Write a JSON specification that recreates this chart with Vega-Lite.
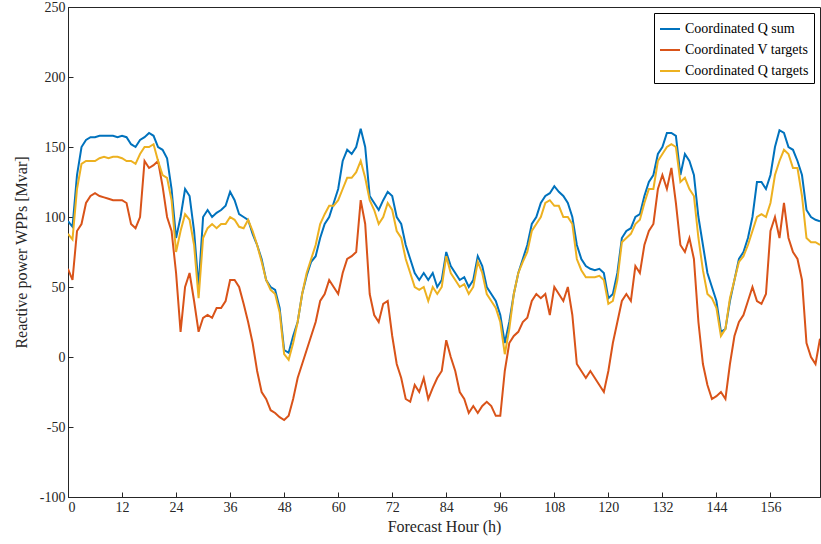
{
  "$schema": "https://vega.github.io/schema/vega-lite/v6.json",
  "width": 752,
  "height": 490,
  "autosize": {"type": "none"},
  "padding": {"left": 68, "top": 7, "right": 1, "bottom": 47},
  "data": {"values": [
{"h":0,"Coordinated Q sum":97,"Coordinated V targets":63,"Coordinated Q targets":88},
{"h":1,"Coordinated Q sum":93,"Coordinated V targets":55,"Coordinated Q targets":84},
{"h":2,"Coordinated Q sum":130,"Coordinated V targets":90,"Coordinated Q targets":120},
{"h":3,"Coordinated Q sum":150,"Coordinated V targets":95,"Coordinated Q targets":138},
{"h":4,"Coordinated Q sum":155,"Coordinated V targets":110,"Coordinated Q targets":140},
{"h":5,"Coordinated Q sum":157,"Coordinated V targets":115,"Coordinated Q targets":140},
{"h":6,"Coordinated Q sum":157,"Coordinated V targets":117,"Coordinated Q targets":140},
{"h":7,"Coordinated Q sum":158,"Coordinated V targets":115,"Coordinated Q targets":142},
{"h":8,"Coordinated Q sum":158,"Coordinated V targets":114,"Coordinated Q targets":143},
{"h":9,"Coordinated Q sum":158,"Coordinated V targets":113,"Coordinated Q targets":142},
{"h":10,"Coordinated Q sum":158,"Coordinated V targets":112,"Coordinated Q targets":143},
{"h":11,"Coordinated Q sum":157,"Coordinated V targets":112,"Coordinated Q targets":143},
{"h":12,"Coordinated Q sum":158,"Coordinated V targets":112,"Coordinated Q targets":142},
{"h":13,"Coordinated Q sum":157,"Coordinated V targets":110,"Coordinated Q targets":140},
{"h":14,"Coordinated Q sum":152,"Coordinated V targets":95,"Coordinated Q targets":140},
{"h":15,"Coordinated Q sum":150,"Coordinated V targets":92,"Coordinated Q targets":138},
{"h":16,"Coordinated Q sum":155,"Coordinated V targets":100,"Coordinated Q targets":145},
{"h":17,"Coordinated Q sum":157,"Coordinated V targets":140,"Coordinated Q targets":150},
{"h":18,"Coordinated Q sum":160,"Coordinated V targets":135,"Coordinated Q targets":150},
{"h":19,"Coordinated Q sum":158,"Coordinated V targets":137,"Coordinated Q targets":152},
{"h":20,"Coordinated Q sum":150,"Coordinated V targets":140,"Coordinated Q targets":140},
{"h":21,"Coordinated Q sum":148,"Coordinated V targets":122,"Coordinated Q targets":130},
{"h":22,"Coordinated Q sum":142,"Coordinated V targets":100,"Coordinated Q targets":128},
{"h":23,"Coordinated Q sum":120,"Coordinated V targets":90,"Coordinated Q targets":112},
{"h":24,"Coordinated Q sum":85,"Coordinated V targets":60,"Coordinated Q targets":75},
{"h":25,"Coordinated Q sum":100,"Coordinated V targets":18,"Coordinated Q targets":90},
{"h":26,"Coordinated Q sum":120,"Coordinated V targets":50,"Coordinated Q targets":102},
{"h":27,"Coordinated Q sum":115,"Coordinated V targets":60,"Coordinated Q targets":98},
{"h":28,"Coordinated Q sum":90,"Coordinated V targets":40,"Coordinated Q targets":80},
{"h":29,"Coordinated Q sum":50,"Coordinated V targets":18,"Coordinated Q targets":42},
{"h":30,"Coordinated Q sum":100,"Coordinated V targets":28,"Coordinated Q targets":85},
{"h":31,"Coordinated Q sum":105,"Coordinated V targets":30,"Coordinated Q targets":92},
{"h":32,"Coordinated Q sum":100,"Coordinated V targets":28,"Coordinated Q targets":95},
{"h":33,"Coordinated Q sum":103,"Coordinated V targets":35,"Coordinated Q targets":92},
{"h":34,"Coordinated Q sum":105,"Coordinated V targets":35,"Coordinated Q targets":95},
{"h":35,"Coordinated Q sum":108,"Coordinated V targets":40,"Coordinated Q targets":95},
{"h":36,"Coordinated Q sum":118,"Coordinated V targets":55,"Coordinated Q targets":100},
{"h":37,"Coordinated Q sum":112,"Coordinated V targets":55,"Coordinated Q targets":98},
{"h":38,"Coordinated Q sum":102,"Coordinated V targets":50,"Coordinated Q targets":93},
{"h":39,"Coordinated Q sum":100,"Coordinated V targets":38,"Coordinated Q targets":92},
{"h":40,"Coordinated Q sum":98,"Coordinated V targets":25,"Coordinated Q targets":98},
{"h":41,"Coordinated Q sum":88,"Coordinated V targets":10,"Coordinated Q targets":90},
{"h":42,"Coordinated Q sum":80,"Coordinated V targets":-10,"Coordinated Q targets":80},
{"h":43,"Coordinated Q sum":70,"Coordinated V targets":-25,"Coordinated Q targets":68},
{"h":44,"Coordinated Q sum":55,"Coordinated V targets":-30,"Coordinated Q targets":55},
{"h":45,"Coordinated Q sum":50,"Coordinated V targets":-38,"Coordinated Q targets":48},
{"h":46,"Coordinated Q sum":48,"Coordinated V targets":-40,"Coordinated Q targets":45},
{"h":47,"Coordinated Q sum":35,"Coordinated V targets":-43,"Coordinated Q targets":32},
{"h":48,"Coordinated Q sum":5,"Coordinated V targets":-45,"Coordinated Q targets":2},
{"h":49,"Coordinated Q sum":3,"Coordinated V targets":-42,"Coordinated Q targets":-2},
{"h":50,"Coordinated Q sum":15,"Coordinated V targets":-30,"Coordinated Q targets":10},
{"h":51,"Coordinated Q sum":25,"Coordinated V targets":-15,"Coordinated Q targets":25},
{"h":52,"Coordinated Q sum":45,"Coordinated V targets":-5,"Coordinated Q targets":45},
{"h":53,"Coordinated Q sum":58,"Coordinated V targets":5,"Coordinated Q targets":60},
{"h":54,"Coordinated Q sum":68,"Coordinated V targets":15,"Coordinated Q targets":70},
{"h":55,"Coordinated Q sum":72,"Coordinated V targets":25,"Coordinated Q targets":80},
{"h":56,"Coordinated Q sum":85,"Coordinated V targets":40,"Coordinated Q targets":95},
{"h":57,"Coordinated Q sum":95,"Coordinated V targets":45,"Coordinated Q targets":102},
{"h":58,"Coordinated Q sum":100,"Coordinated V targets":55,"Coordinated Q targets":108},
{"h":59,"Coordinated Q sum":110,"Coordinated V targets":50,"Coordinated Q targets":108},
{"h":60,"Coordinated Q sum":120,"Coordinated V targets":45,"Coordinated Q targets":112},
{"h":61,"Coordinated Q sum":140,"Coordinated V targets":60,"Coordinated Q targets":120},
{"h":62,"Coordinated Q sum":148,"Coordinated V targets":70,"Coordinated Q targets":128},
{"h":63,"Coordinated Q sum":145,"Coordinated V targets":72,"Coordinated Q targets":128},
{"h":64,"Coordinated Q sum":150,"Coordinated V targets":75,"Coordinated Q targets":132},
{"h":65,"Coordinated Q sum":163,"Coordinated V targets":112,"Coordinated Q targets":140},
{"h":66,"Coordinated Q sum":150,"Coordinated V targets":95,"Coordinated Q targets":128},
{"h":67,"Coordinated Q sum":115,"Coordinated V targets":45,"Coordinated Q targets":112},
{"h":68,"Coordinated Q sum":110,"Coordinated V targets":30,"Coordinated Q targets":105},
{"h":69,"Coordinated Q sum":105,"Coordinated V targets":25,"Coordinated Q targets":95},
{"h":70,"Coordinated Q sum":112,"Coordinated V targets":38,"Coordinated Q targets":100},
{"h":71,"Coordinated Q sum":118,"Coordinated V targets":40,"Coordinated Q targets":110},
{"h":72,"Coordinated Q sum":115,"Coordinated V targets":15,"Coordinated Q targets":105},
{"h":73,"Coordinated Q sum":100,"Coordinated V targets":-5,"Coordinated Q targets":90},
{"h":74,"Coordinated Q sum":95,"Coordinated V targets":-15,"Coordinated Q targets":85},
{"h":75,"Coordinated Q sum":80,"Coordinated V targets":-30,"Coordinated Q targets":70},
{"h":76,"Coordinated Q sum":70,"Coordinated V targets":-32,"Coordinated Q targets":60},
{"h":77,"Coordinated Q sum":60,"Coordinated V targets":-20,"Coordinated Q targets":50},
{"h":78,"Coordinated Q sum":55,"Coordinated V targets":-25,"Coordinated Q targets":48},
{"h":79,"Coordinated Q sum":60,"Coordinated V targets":-15,"Coordinated Q targets":50},
{"h":80,"Coordinated Q sum":55,"Coordinated V targets":-30,"Coordinated Q targets":40},
{"h":81,"Coordinated Q sum":60,"Coordinated V targets":-22,"Coordinated Q targets":50},
{"h":82,"Coordinated Q sum":50,"Coordinated V targets":-15,"Coordinated Q targets":45},
{"h":83,"Coordinated Q sum":55,"Coordinated V targets":-10,"Coordinated Q targets":50},
{"h":84,"Coordinated Q sum":75,"Coordinated V targets":12,"Coordinated Q targets":72},
{"h":85,"Coordinated Q sum":65,"Coordinated V targets":0,"Coordinated Q targets":60},
{"h":86,"Coordinated Q sum":60,"Coordinated V targets":-10,"Coordinated Q targets":55},
{"h":87,"Coordinated Q sum":55,"Coordinated V targets":-25,"Coordinated Q targets":50},
{"h":88,"Coordinated Q sum":57,"Coordinated V targets":-30,"Coordinated Q targets":52},
{"h":89,"Coordinated Q sum":50,"Coordinated V targets":-40,"Coordinated Q targets":45},
{"h":90,"Coordinated Q sum":55,"Coordinated V targets":-35,"Coordinated Q targets":50},
{"h":91,"Coordinated Q sum":72,"Coordinated V targets":-40,"Coordinated Q targets":68},
{"h":92,"Coordinated Q sum":65,"Coordinated V targets":-35,"Coordinated Q targets":60},
{"h":93,"Coordinated Q sum":50,"Coordinated V targets":-32,"Coordinated Q targets":45},
{"h":94,"Coordinated Q sum":45,"Coordinated V targets":-35,"Coordinated Q targets":40},
{"h":95,"Coordinated Q sum":40,"Coordinated V targets":-42,"Coordinated Q targets":35},
{"h":96,"Coordinated Q sum":30,"Coordinated V targets":-42,"Coordinated Q targets":25},
{"h":97,"Coordinated Q sum":10,"Coordinated V targets":-10,"Coordinated Q targets":2},
{"h":98,"Coordinated Q sum":25,"Coordinated V targets":10,"Coordinated Q targets":20},
{"h":99,"Coordinated Q sum":45,"Coordinated V targets":15,"Coordinated Q targets":45},
{"h":100,"Coordinated Q sum":60,"Coordinated V targets":18,"Coordinated Q targets":60},
{"h":101,"Coordinated Q sum":70,"Coordinated V targets":25,"Coordinated Q targets":68},
{"h":102,"Coordinated Q sum":80,"Coordinated V targets":28,"Coordinated Q targets":75},
{"h":103,"Coordinated Q sum":95,"Coordinated V targets":40,"Coordinated Q targets":90},
{"h":104,"Coordinated Q sum":100,"Coordinated V targets":45,"Coordinated Q targets":95},
{"h":105,"Coordinated Q sum":110,"Coordinated V targets":42,"Coordinated Q targets":100},
{"h":106,"Coordinated Q sum":115,"Coordinated V targets":45,"Coordinated Q targets":110},
{"h":107,"Coordinated Q sum":117,"Coordinated V targets":30,"Coordinated Q targets":112},
{"h":108,"Coordinated Q sum":122,"Coordinated V targets":50,"Coordinated Q targets":108},
{"h":109,"Coordinated Q sum":118,"Coordinated V targets":45,"Coordinated Q targets":108},
{"h":110,"Coordinated Q sum":115,"Coordinated V targets":40,"Coordinated Q targets":100},
{"h":111,"Coordinated Q sum":110,"Coordinated V targets":50,"Coordinated Q targets":100},
{"h":112,"Coordinated Q sum":100,"Coordinated V targets":30,"Coordinated Q targets":95},
{"h":113,"Coordinated Q sum":80,"Coordinated V targets":-5,"Coordinated Q targets":70},
{"h":114,"Coordinated Q sum":70,"Coordinated V targets":-10,"Coordinated Q targets":62},
{"h":115,"Coordinated Q sum":65,"Coordinated V targets":-15,"Coordinated Q targets":57},
{"h":116,"Coordinated Q sum":63,"Coordinated V targets":-10,"Coordinated Q targets":57},
{"h":117,"Coordinated Q sum":62,"Coordinated V targets":-15,"Coordinated Q targets":57},
{"h":118,"Coordinated Q sum":63,"Coordinated V targets":-20,"Coordinated Q targets":58},
{"h":119,"Coordinated Q sum":60,"Coordinated V targets":-25,"Coordinated Q targets":55},
{"h":120,"Coordinated Q sum":42,"Coordinated V targets":-10,"Coordinated Q targets":38},
{"h":121,"Coordinated Q sum":45,"Coordinated V targets":10,"Coordinated Q targets":40},
{"h":122,"Coordinated Q sum":60,"Coordinated V targets":25,"Coordinated Q targets":55},
{"h":123,"Coordinated Q sum":85,"Coordinated V targets":40,"Coordinated Q targets":82},
{"h":124,"Coordinated Q sum":90,"Coordinated V targets":45,"Coordinated Q targets":85},
{"h":125,"Coordinated Q sum":92,"Coordinated V targets":40,"Coordinated Q targets":88},
{"h":126,"Coordinated Q sum":100,"Coordinated V targets":65,"Coordinated Q targets":95},
{"h":127,"Coordinated Q sum":102,"Coordinated V targets":60,"Coordinated Q targets":98},
{"h":128,"Coordinated Q sum":115,"Coordinated V targets":80,"Coordinated Q targets":110},
{"h":129,"Coordinated Q sum":125,"Coordinated V targets":90,"Coordinated Q targets":120},
{"h":130,"Coordinated Q sum":130,"Coordinated V targets":95,"Coordinated Q targets":120},
{"h":131,"Coordinated Q sum":145,"Coordinated V targets":120,"Coordinated Q targets":140},
{"h":132,"Coordinated Q sum":150,"Coordinated V targets":130,"Coordinated Q targets":145},
{"h":133,"Coordinated Q sum":160,"Coordinated V targets":120,"Coordinated Q targets":150},
{"h":134,"Coordinated Q sum":160,"Coordinated V targets":135,"Coordinated Q targets":152},
{"h":135,"Coordinated Q sum":158,"Coordinated V targets":110,"Coordinated Q targets":150},
{"h":136,"Coordinated Q sum":130,"Coordinated V targets":80,"Coordinated Q targets":125},
{"h":137,"Coordinated Q sum":145,"Coordinated V targets":75,"Coordinated Q targets":128},
{"h":138,"Coordinated Q sum":140,"Coordinated V targets":85,"Coordinated Q targets":120},
{"h":139,"Coordinated Q sum":130,"Coordinated V targets":70,"Coordinated Q targets":115},
{"h":140,"Coordinated Q sum":100,"Coordinated V targets":25,"Coordinated Q targets":85},
{"h":141,"Coordinated Q sum":80,"Coordinated V targets":-5,"Coordinated Q targets":62},
{"h":142,"Coordinated Q sum":60,"Coordinated V targets":-20,"Coordinated Q targets":45},
{"h":143,"Coordinated Q sum":50,"Coordinated V targets":-30,"Coordinated Q targets":42},
{"h":144,"Coordinated Q sum":40,"Coordinated V targets":-28,"Coordinated Q targets":35},
{"h":145,"Coordinated Q sum":18,"Coordinated V targets":-25,"Coordinated Q targets":15},
{"h":146,"Coordinated Q sum":20,"Coordinated V targets":-30,"Coordinated Q targets":20},
{"h":147,"Coordinated Q sum":40,"Coordinated V targets":-5,"Coordinated Q targets":42},
{"h":148,"Coordinated Q sum":55,"Coordinated V targets":15,"Coordinated Q targets":55},
{"h":149,"Coordinated Q sum":70,"Coordinated V targets":25,"Coordinated Q targets":68},
{"h":150,"Coordinated Q sum":75,"Coordinated V targets":30,"Coordinated Q targets":72},
{"h":151,"Coordinated Q sum":85,"Coordinated V targets":40,"Coordinated Q targets":80},
{"h":152,"Coordinated Q sum":100,"Coordinated V targets":50,"Coordinated Q targets":90},
{"h":153,"Coordinated Q sum":125,"Coordinated V targets":40,"Coordinated Q targets":100},
{"h":154,"Coordinated Q sum":125,"Coordinated V targets":38,"Coordinated Q targets":102},
{"h":155,"Coordinated Q sum":120,"Coordinated V targets":45,"Coordinated Q targets":100},
{"h":156,"Coordinated Q sum":130,"Coordinated V targets":90,"Coordinated Q targets":110},
{"h":157,"Coordinated Q sum":150,"Coordinated V targets":100,"Coordinated Q targets":130},
{"h":158,"Coordinated Q sum":162,"Coordinated V targets":85,"Coordinated Q targets":140},
{"h":159,"Coordinated Q sum":160,"Coordinated V targets":110,"Coordinated Q targets":148},
{"h":160,"Coordinated Q sum":150,"Coordinated V targets":85,"Coordinated Q targets":145},
{"h":161,"Coordinated Q sum":148,"Coordinated V targets":75,"Coordinated Q targets":135},
{"h":162,"Coordinated Q sum":140,"Coordinated V targets":70,"Coordinated Q targets":135},
{"h":163,"Coordinated Q sum":130,"Coordinated V targets":55,"Coordinated Q targets":115},
{"h":164,"Coordinated Q sum":105,"Coordinated V targets":10,"Coordinated Q targets":85},
{"h":165,"Coordinated Q sum":100,"Coordinated V targets":0,"Coordinated Q targets":82},
{"h":166,"Coordinated Q sum":98,"Coordinated V targets":-5,"Coordinated Q targets":82},
{"h":167,"Coordinated Q sum":97,"Coordinated V targets":13,"Coordinated Q targets":80}
  ]},
  "transform": [
    {"fold": ["Coordinated Q sum", "Coordinated V targets", "Coordinated Q targets"], "as": ["series", "value"]}
  ],
  "mark": {"type": "line", "strokeWidth": 2, "clip": true},
  "encoding": {
    "x": {"field": "h", "type": "quantitative", "title": "Forecast Hour (h)",
      "scale": {"domain": [0, 167], "nice": false},
      "axis": {"values": [0,12,24,36,48,60,72,84,96,108,120,132,144,156], "grid": false, "tickSize": -5, "labelPadding": 8, "titlePadding": 4}},
    "y": {"field": "value", "type": "quantitative", "title": "Reactive power WPPs [Mvar]",
      "scale": {"domain": [-100, 250], "nice": false},
      "axis": {"values": [-100,-50,0,50,100,150,200,250], "grid": false, "tickSize": -5, "labelPadding": 8, "titlePadding": 10,
        "labelExpr": "format(datum.value, 'd')"}},
    "color": {"field": "series", "type": "nominal", "sort": ["Coordinated Q sum", "Coordinated V targets", "Coordinated Q targets"],
      "scale": {"domain": ["Coordinated Q sum", "Coordinated V targets", "Coordinated Q targets"], "range": ["#0072BD", "#D95319", "#EDB120"]},
      "legend": {"title": null, "orient": "top-right", "symbolType": "stroke", "symbolStrokeWidth": 2, "symbolSize": 400,
        "strokeColor": "black", "fillColor": "white", "padding": 5, "offset": 6, "rowPadding": 3, "labelFontSize": 14}}
  },
  "config": {
    "font": "Liberation Serif",
    "locale": {"number": {"decimal": ".", "thousands": ",", "grouping": [3], "currency": ["$", ""], "minus": "-"}},
    "view": {"stroke": "#262626", "strokeWidth": 1},
    "axis": {"labelFont": "Liberation Serif", "titleFont": "Liberation Serif", "labelFontSize": 14, "titleFontSize": 16, "titleFontWeight": "normal", "labelColor": "#262626", "titleColor": "#262626", "domainColor": "#262626", "tickColor": "#262626"},
    "legend": {"labelFont": "Liberation Serif", "labelColor": "black"}
  }
}
